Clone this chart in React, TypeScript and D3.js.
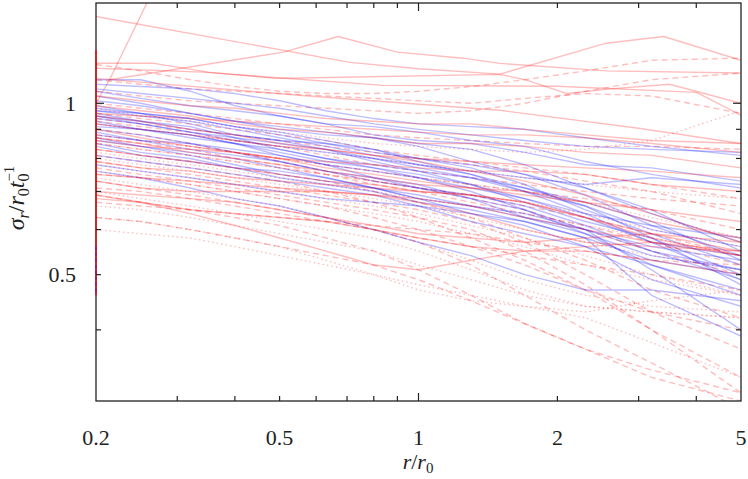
import React from "react";
import * as d3 from "d3";

// radii grid shared by most curves (r / r0)
const gridR = [0.2, 0.25, 0.32, 0.4, 0.5, 0.63, 0.8, 1.0, 1.3, 1.7, 2.3, 3.2, 5.0];

const blueSolid: number[][] = [
  [1.10, 1.10, 1.05, 0.99, 0.95, 0.92, 0.91, 0.89, 0.86, 0.84, 0.79, 0.75, 0.71],
  [1.08, 1.07, 1.06, 1.04, 1.01, 0.97, 0.94, 0.92, 0.91, 0.90, 0.87, 0.84, 0.81],
  [1.05, 1.02, 0.99, 0.97, 0.95, 0.92, 0.88, 0.86, 0.85, 0.82, 0.78, 0.77, 0.73],
  [1.03, 1.00, 0.96, 0.93, 0.91, 0.89, 0.87, 0.84, 0.79, 0.75, 0.71, 0.64, 0.57],
  [1.01, 0.99, 0.96, 0.93, 0.90, 0.88, 0.87, 0.85, 0.83, 0.78, 0.71, 0.65, 0.55],
  [0.99, 0.96, 0.94, 0.91, 0.88, 0.85, 0.82, 0.80, 0.78, 0.75, 0.69, 0.61, 0.54],
  [0.98, 0.96, 0.92, 0.88, 0.86, 0.85, 0.83, 0.79, 0.75, 0.71, 0.67, 0.62, 0.53],
  [0.97, 0.96, 0.94, 0.91, 0.89, 0.86, 0.83, 0.80, 0.77, 0.72, 0.65, 0.59, 0.52],
  [0.96, 0.93, 0.90, 0.88, 0.86, 0.83, 0.79, 0.76, 0.74, 0.71, 0.66, 0.60, 0.56],
  [0.95, 0.93, 0.91, 0.87, 0.83, 0.80, 0.78, 0.76, 0.72, 0.67, 0.62, 0.58, 0.50],
  [0.94, 0.92, 0.89, 0.87, 0.85, 0.83, 0.80, 0.77, 0.74, 0.70, 0.66, 0.58, 0.48],
  [0.93, 0.90, 0.87, 0.85, 0.83, 0.80, 0.77, 0.74, 0.71, 0.68, 0.63, 0.57, 0.54],
  [0.92, 0.90, 0.88, 0.85, 0.81, 0.78, 0.76, 0.74, 0.70, 0.65, 0.59, 0.52, 0.46],
  [0.91, 0.90, 0.88, 0.85, 0.82, 0.79, 0.77, 0.75, 0.72, 0.68, 0.64, 0.61, 0.58],
  [0.90, 0.88, 0.85, 0.83, 0.81, 0.78, 0.74, 0.71, 0.68, 0.65, 0.60, 0.51, 0.40],
  [0.89, 0.86, 0.83, 0.81, 0.79, 0.76, 0.73, 0.71, 0.69, 0.66, 0.61, 0.55, 0.49],
  [0.88, 0.86, 0.85, 0.82, 0.79, 0.76, 0.74, 0.72, 0.68, 0.63, 0.59, 0.54, 0.51],
  [0.87, 0.84, 0.82, 0.80, 0.77, 0.74, 0.71, 0.68, 0.66, 0.64, 0.60, 0.55, 0.51],
  [0.86, 0.84, 0.81, 0.78, 0.75, 0.73, 0.71, 0.68, 0.64, 0.61, 0.56, 0.49, 0.44],
  [0.85, 0.82, 0.80, 0.77, 0.74, 0.72, 0.70, 0.67, 0.65, 0.62, 0.58, 0.46, 0.39],
  [0.84, 0.81, 0.79, 0.77, 0.76, 0.74, 0.71, 0.69, 0.66, 0.63, 0.60, 0.56, 0.53],
  [0.81, 0.79, 0.77, 0.75, 0.73, 0.71, 0.69, 0.66, 0.62, 0.59, 0.56, 0.52, 0.47],
  [0.78, 0.76, 0.74, 0.72, 0.70, 0.68, 0.67, 0.66, 0.64, 0.62, 0.58, 0.53, 0.50],
  [0.76, 0.74, 0.71, 0.68, 0.66, 0.63, 0.60, 0.57, 0.54, 0.50, 0.47, 0.47, 0.45],
  [0.97, 0.95, 0.93, 0.90, 0.87, 0.84, 0.81, 0.78, 0.75, 0.70, 0.64, 0.57, 0.49],
  [0.95, 0.92, 0.89, 0.86, 0.84, 0.82, 0.80, 0.78, 0.76, 0.74, 0.72, 0.74, 0.72],
  [1.06, 1.04, 1.02, 1.00, 0.98, 0.95, 0.92, 0.90, 0.88, 0.86, 0.84, 0.83, 0.82],
];

const redSolid: number[][] = [
  [1.03, 1.01, 0.99, 0.98, 0.96, 0.94, 0.93, 0.92, 0.92, 0.90, 0.88, 0.86, 0.85],
  [0.99, 0.97, 0.95, 0.92, 0.90, 0.89, 0.87, 0.85, 0.85, 0.84, 0.82, 0.81, 0.77],
  [0.95, 0.93, 0.90, 0.88, 0.85, 0.83, 0.81, 0.79, 0.76, 0.73, 0.69, 0.64, 0.57],
  [0.92, 0.90, 0.88, 0.86, 0.84, 0.83, 0.81, 0.80, 0.79, 0.78, 0.77, 0.76, 0.74],
  [0.90, 0.87, 0.84, 0.82, 0.80, 0.77, 0.75, 0.73, 0.71, 0.70, 0.67, 0.62, 0.58],
  [0.87, 0.85, 0.82, 0.80, 0.78, 0.76, 0.74, 0.72, 0.71, 0.69, 0.67, 0.65, 0.62],
  [0.83, 0.81, 0.79, 0.77, 0.75, 0.73, 0.72, 0.70, 0.69, 0.67, 0.63, 0.59, 0.55],
  [0.79, 0.77, 0.76, 0.74, 0.73, 0.72, 0.71, 0.70, 0.69, 0.67, 0.63, 0.58, 0.54],
  [0.75, 0.74, 0.73, 0.72, 0.71, 0.70, 0.69, 0.68, 0.66, 0.63, 0.60, 0.57, 0.55],
  [0.73, 0.71, 0.70, 0.70, 0.70, 0.70, 0.69, 0.67, 0.64, 0.60, 0.57, 0.56, 0.55],
  [0.70, 0.69, 0.68, 0.67, 0.65, 0.63, 0.61, 0.59, 0.58, 0.57, 0.58, 0.59, 0.57],
  [0.68, 0.67, 0.65, 0.64, 0.63, 0.62, 0.60, 0.58, 0.56, 0.55, 0.56, 0.57, 0.54],
  [0.69, 0.67, 0.64, 0.61, 0.58, 0.55, 0.52, 0.51, 0.53, 0.55, 0.55, 0.53, 0.50],
  [0.86, 0.84, 0.83, 0.82, 0.80, 0.79, 0.78, 0.77, 0.76, 0.76, 0.75, 0.72, 0.70],
  [0.96, 0.95, 0.94, 0.93, 0.92, 0.91, 0.90, 0.89, 0.88, 0.88, 0.87, 0.85, 0.82],
];

// red solid curves sampled at their own radii
const redSolidExtraR: number[][] = [
  [0.2, 0.71, 1.0, 1.5, 2.55, 3.4, 5.0],
  [0.214, 0.51, 0.67, 0.9, 1.25, 1.5, 2.55, 5.0],
  [0.2, 0.214, 0.27],
  [0.2, 0.265, 0.35, 0.49, 0.64, 1.5, 1.7, 2.1, 2.6, 3.5, 5.0],
  [0.2, 0.34, 0.84, 2.0, 4.0, 5.0],
  [0.2, 0.55, 1.5, 3.0, 5.0],
];
const redSolidExtraV: number[][] = [
  [1.42, 1.18, 1.15, 1.125, 1.275, 1.31, 1.19],
  [1.10, 1.23, 1.31, 1.23, 1.2, 1.175, 1.14, 1.13],
  [1.0, 1.10, 1.62],
  [1.176, 1.176, 1.134, 1.106, 1.11, 1.124, 1.10, 1.04, 1.06, 1.08, 1.0],
  [1.152, 1.134, 1.075, 1.071, 1.045, 0.953],
  [1.106, 1.033, 0.972, 0.904, 0.85],
];

const redDashed: number[][] = [
  [1.17, 1.14, 1.10, 1.07, 1.05, 1.04, 1.04, 1.05, 1.07, 1.10, 1.14, 1.19, 1.20],
  [1.10, 1.08, 1.06, 1.05, 1.04, 1.03, 1.02, 1.01, 1.00, 1.02, 1.04, 1.03, 0.96],
  [1.05, 1.03, 1.01, 1.00, 0.99, 0.98, 0.97, 0.96, 0.97, 1.00, 1.05, 1.10, 1.13],
  [1.00, 0.98, 0.96, 0.94, 0.92, 0.90, 0.88, 0.87, 0.86, 0.85, 0.84, 0.84, 0.83],
  [0.96, 0.94, 0.92, 0.90, 0.88, 0.86, 0.83, 0.81, 0.79, 0.77, 0.75, 0.72, 0.68],
  [0.93, 0.91, 0.89, 0.86, 0.84, 0.81, 0.78, 0.76, 0.74, 0.72, 0.70, 0.68, 0.66],
  [0.90, 0.88, 0.85, 0.82, 0.79, 0.76, 0.73, 0.71, 0.69, 0.66, 0.63, 0.59, 0.54],
  [0.87, 0.85, 0.83, 0.80, 0.78, 0.75, 0.72, 0.70, 0.67, 0.64, 0.61, 0.57, 0.52],
  [0.85, 0.83, 0.81, 0.79, 0.77, 0.75, 0.73, 0.71, 0.68, 0.65, 0.60, 0.55, 0.50],
  [0.83, 0.81, 0.79, 0.77, 0.75, 0.73, 0.70, 0.67, 0.63, 0.58, 0.53, 0.47, 0.42],
  [0.81, 0.79, 0.77, 0.75, 0.73, 0.70, 0.67, 0.63, 0.58, 0.53, 0.47, 0.40, 0.33],
  [0.79, 0.77, 0.75, 0.73, 0.71, 0.69, 0.67, 0.65, 0.62, 0.57, 0.50, 0.43, 0.37],
  [0.77, 0.75, 0.73, 0.71, 0.69, 0.67, 0.65, 0.63, 0.60, 0.55, 0.48, 0.40, 0.31],
  [0.75, 0.74, 0.72, 0.70, 0.68, 0.66, 0.63, 0.60, 0.56, 0.52, 0.47, 0.43, 0.40],
  [0.73, 0.71, 0.69, 0.67, 0.65, 0.63, 0.60, 0.57, 0.52, 0.46, 0.40, 0.35, 0.29],
  [0.71, 0.70, 0.68, 0.66, 0.64, 0.62, 0.60, 0.58, 0.56, 0.54, 0.52, 0.50, 0.47],
  [0.69, 0.67, 0.65, 0.63, 0.61, 0.58, 0.55, 0.51, 0.46, 0.41, 0.37, 0.34, 0.31],
  [0.67, 0.66, 0.65, 0.64, 0.63, 0.62, 0.61, 0.60, 0.59, 0.57, 0.55, 0.53, 0.52],
  [0.63, 0.62, 0.60, 0.58, 0.56, 0.54, 0.52, 0.49, 0.45, 0.41, 0.37, 0.33, 0.30],
  [0.88, 0.86, 0.84, 0.82, 0.80, 0.78, 0.76, 0.74, 0.72, 0.70, 0.68, 0.65, 0.60],
  [0.94, 0.92, 0.90, 0.88, 0.86, 0.84, 0.82, 0.80, 0.78, 0.76, 0.73, 0.70, 0.64],
];

const redDotted: number[][] = [
  [0.98, 0.95, 0.93, 0.91, 0.89, 0.87, 0.85, 0.84, 0.83, 0.82, 0.83, 0.86, 0.97],
  [0.92, 0.90, 0.88, 0.86, 0.84, 0.82, 0.80, 0.78, 0.76, 0.74, 0.72, 0.70, 0.68],
  [0.88, 0.86, 0.84, 0.82, 0.80, 0.78, 0.76, 0.74, 0.72, 0.70, 0.67, 0.63, 0.58],
  [0.85, 0.83, 0.81, 0.79, 0.77, 0.75, 0.73, 0.71, 0.69, 0.67, 0.64, 0.60, 0.56],
  [0.82, 0.80, 0.78, 0.76, 0.74, 0.72, 0.70, 0.68, 0.66, 0.64, 0.61, 0.58, 0.54],
  [0.80, 0.78, 0.76, 0.74, 0.72, 0.70, 0.68, 0.66, 0.63, 0.60, 0.57, 0.54, 0.51],
  [0.78, 0.76, 0.74, 0.72, 0.70, 0.68, 0.66, 0.64, 0.61, 0.58, 0.54, 0.50, 0.46],
  [0.76, 0.74, 0.72, 0.70, 0.68, 0.66, 0.64, 0.62, 0.59, 0.56, 0.52, 0.49, 0.46],
  [0.74, 0.72, 0.70, 0.68, 0.66, 0.63, 0.60, 0.57, 0.53, 0.49, 0.46, 0.44, 0.43],
  [0.70, 0.68, 0.66, 0.64, 0.62, 0.60, 0.58, 0.55, 0.51, 0.47, 0.44, 0.43, 0.42],
  [0.66, 0.65, 0.63, 0.61, 0.59, 0.57, 0.55, 0.52, 0.49, 0.46, 0.44, 0.43, 0.42],
  [0.63, 0.62, 0.60, 0.58, 0.56, 0.53, 0.50, 0.47, 0.45, 0.44, 0.43, 0.45, 0.47],
  [0.60, 0.59, 0.58, 0.56, 0.54, 0.52, 0.50, 0.48, 0.46, 0.44, 0.42, 0.38, 0.33],
];

// segments lying on the inner edge r = 0.2
const edgeR = [0.2, 0.2];
const redEdge = [1.24, 0.46];
const blueEdge = [0.56, 0.46];

const xTickLabels = [0.2, 0.5, 1, 2, 5];
const xMinorTicks = [0.3, 0.4, 0.5, 0.6, 0.7, 0.8, 0.9, 2, 3, 4];
const xMajorTicks = [1];
const yTickLabels = [0.5, 1];
const yMinorTicks = [0.4, 0.5, 0.6, 0.7, 0.8, 0.9];
const yMajorTicks = [1];

const W = 748;
const H = 479;
const L = 96, R = 741, T = 3, B = 401;

const FONT = "Liberation Serif, DejaVu Serif, serif";

export default function App() {
  const x = d3.scaleLog().domain([0.2, 5]).range([L, R]);
  const y = d3.scaleLog().domain([0.3, 1.5]).range([B, T]);
  const line = d3
    .line<[number, number]>()
    .x((d) => x(d[0]))
    .y((d) => y(d[1]));

  const onGrid = (vals: number[]) => line(vals.map((v, i) => [gridR[i], v] as [number, number])) || "";
  const zipPath = (rs: number[], vs: number[]) => line(rs.map((r, i) => [r, vs[i]] as [number, number])) || "";

  const RED = "rgba(255,0,0,0.26)";
  const BLUE = "rgba(0,0,255,0.26)";
  const lw = 1.4;

  return (
    <svg width={W} height={H} style={{ display: "block", position: "absolute", left: 0, top: 0, fontFamily: FONT }}>
      <defs>
        <clipPath id="plotclip">
          <rect x={L - 1} y={T} width={R - L + 1} height={B - T} />
        </clipPath>
      </defs>
      <rect x={0} y={0} width={W} height={H} fill="#fff" />
      <g clipPath="url(#plotclip)" fill="none" strokeLinejoin="round">
        {redDotted.map((v, i) => (
          <path key={"do" + i} d={onGrid(v)} stroke={RED} strokeWidth={lw} strokeDasharray="1.5,3" />
        ))}
        {redDashed.map((v, i) => (
          <path key={"da" + i} d={onGrid(v)} stroke={RED} strokeWidth={lw} strokeDasharray="6,4" />
        ))}
        {blueSolid.map((v, i) => (
          <path key={"b" + i} d={onGrid(v)} stroke={BLUE} strokeWidth={lw} />
        ))}
        {redSolid.map((v, i) => (
          <path key={"rs" + i} d={onGrid(v)} stroke={RED} strokeWidth={lw} />
        ))}
        {redSolidExtraR.map((rs, i) => (
          <path key={"rx" + i} d={zipPath(rs, redSolidExtraV[i])} stroke={RED} strokeWidth={lw} />
        ))}
      </g>
      {/* frame */}
      <rect x={L} y={T} width={R - L} height={B - T} fill="none" stroke="#222" strokeWidth={1.3} />
      <g clipPath="url(#plotclip)" fill="none">
        <path d={zipPath(edgeR, redEdge)} stroke="rgba(255,0,0,0.85)" strokeWidth={1.4} />
        <path d={zipPath(edgeR, blueEdge)} stroke="rgba(80,0,200,0.5)" strokeWidth={1.4} strokeDasharray="3,3" />
      </g>
      {/* ticks */}
      <g stroke="#222" strokeWidth={1.2}>
        {xMinorTicks.map((t) => (
          <g key={"xm" + t}>
            <line x1={x(t)} x2={x(t)} y1={B} y2={B - 5} />
            <line x1={x(t)} x2={x(t)} y1={T} y2={T + 5} />
          </g>
        ))}
        {xMajorTicks.map((t) => (
          <g key={"xM" + t}>
            <line x1={x(t)} x2={x(t)} y1={B} y2={B - 8} />
            <line x1={x(t)} x2={x(t)} y1={T} y2={T + 8} />
          </g>
        ))}
        {yMinorTicks.map((t) => (
          <g key={"ym" + t}>
            <line x1={L} x2={L + 5} y1={y(t)} y2={y(t)} />
            <line x1={R} x2={R - 5} y1={y(t)} y2={y(t)} />
          </g>
        ))}
        {yMajorTicks.map((t) => (
          <g key={"yM" + t}>
            <line x1={L} x2={L + 8} y1={y(t)} y2={y(t)} />
            <line x1={R} x2={R - 8} y1={y(t)} y2={y(t)} />
          </g>
        ))}
      </g>
      {/* tick labels */}
      <g fontFamily={FONT} fontSize={22} fill="#222">
        {xTickLabels.map((t) => (
          <text key={"xl" + t} x={x(t)} y={445} textAnchor="middle">
            {String(t)}
          </text>
        ))}
        {yTickLabels.map((t) => (
          <text key={"yl" + t} x={76} y={y(t) + 7.5} textAnchor="end">
            {String(t)}
          </text>
        ))}
      </g>
      {/* axis titles */}
      <text x={418} y={469} textAnchor="middle" fontFamily={FONT} fontSize={22} fill="#222">
        <tspan fontStyle="italic">r</tspan>
        <tspan>/</tspan>
        <tspan fontStyle="italic">r</tspan>
        <tspan fontSize={15} dy={4}>0</tspan>
      </text>
      <text transform="translate(24,198) rotate(-90)" textAnchor="middle" fontFamily={FONT} fontSize={24} fill="#222">
        <tspan fontStyle="italic">σ</tspan>
        <tspan fontStyle="italic" fontSize={16} dy={5}>r</tspan>
        <tspan dy={-5}>/</tspan>
        <tspan fontStyle="italic">r</tspan>
        <tspan fontSize={16} dy={5}>0</tspan>
        <tspan fontStyle="italic" dy={-5}>t</tspan>
        <tspan fontSize={16} dy={5}>0</tspan>
        <tspan fontSize={15} dx={-8} dy={-15}>−1</tspan>
      </text>
    </svg>
  );
}
